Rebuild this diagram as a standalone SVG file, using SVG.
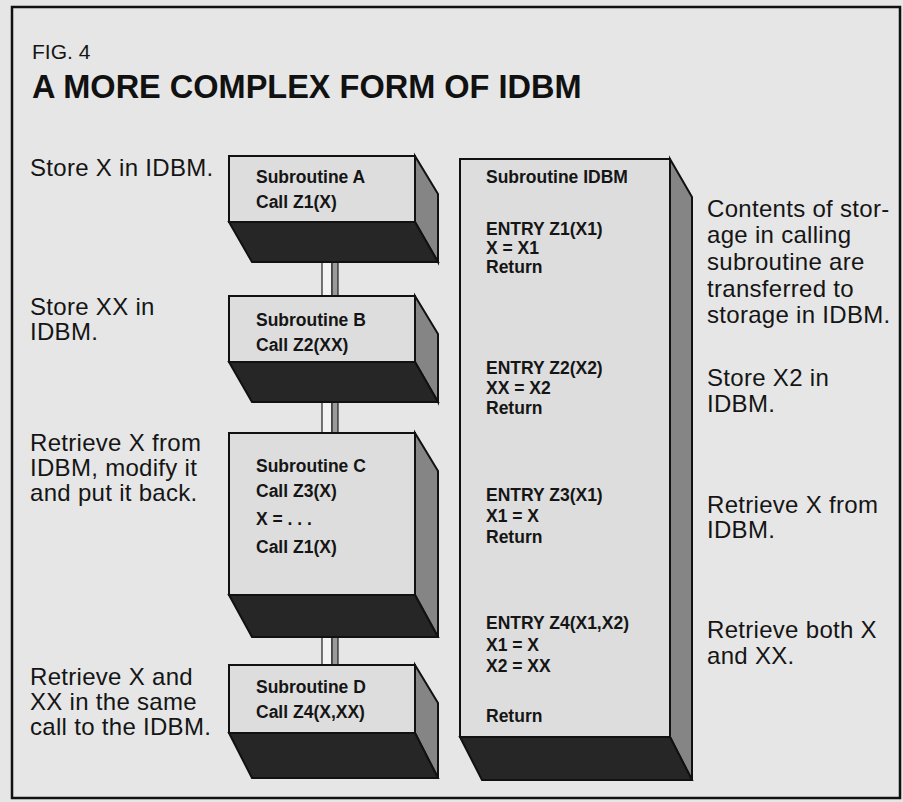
<svg xmlns="http://www.w3.org/2000/svg" width="903" height="802" viewBox="0 0 903 802">
<style>
.bg{fill:#e6e6e6}
.frame{fill:none;stroke:#111;stroke-width:2.5}
.front{fill:#dddddd;stroke:#111;stroke-width:2}
.side{fill:#858585;stroke:#111;stroke-width:2}
.bottom{fill:#262626;stroke:#111;stroke-width:2}
.note{font-family:"Liberation Sans",Arial,sans-serif;font-size:24px;letter-spacing:0.3px;fill:#151515}
.code{font-family:"Liberation Sans",Arial,sans-serif;font-size:17.5px;font-weight:bold;fill:#151515}
.fig{font-family:"Liberation Sans",Arial,sans-serif;font-size:21px;fill:#151515}
.title{font-family:"Liberation Sans",Arial,sans-serif;font-size:32.5px;font-weight:bold;fill:#111}
.barw{fill:#f4f4f4;stroke:#222;stroke-width:1.2}
.barg{fill:#9a9a9a;stroke:#222;stroke-width:1.2}
</style>
<rect class="bg" x="0" y="0" width="903" height="802"/>
<rect class="frame" x="12" y="7" width="888" height="791"/>
<text class="fig" x="32" y="59">FIG. 4</text>
<text class="title" x="32" y="98">A MORE COMPLEX FORM OF IDBM</text>

<g id="connectors">
  <rect class="barw" x="322" y="262" width="10" height="34"/><rect class="barg" x="332" y="262" width="6" height="34"/>
  <rect class="barw" x="322" y="402" width="10" height="31"/><rect class="barg" x="332" y="402" width="6" height="31"/>
  <rect class="barw" x="322" y="637" width="10" height="28"/><rect class="barg" x="332" y="637" width="6" height="28"/>
</g>

<g id="subA">
  <polygon class="side" points="415,156 438,194 438,262 415,222"/>
  <polygon class="bottom" points="229,222 415,222 438,262 252,262"/>
  <rect class="front" x="229" y="156" width="186" height="66"/>
  <text class="code" x="256" y="183">Subroutine A</text>
  <text class="code" x="256" y="208">Call Z1(X)</text>
</g>
<g id="subB">
  <polygon class="side" points="415,296 438,334 438,402 415,362"/>
  <polygon class="bottom" points="229,362 415,362 438,402 252,402"/>
  <rect class="front" x="229" y="296" width="186" height="66"/>
  <text class="code" x="256" y="326">Subroutine B</text>
  <text class="code" x="256" y="351">Call Z2(XX)</text>
</g>
<g id="subC">
  <polygon class="side" points="415,433 438,471 438,637 415,595"/>
  <polygon class="bottom" points="229,595 415,595 438,637 252,637"/>
  <rect class="front" x="229" y="433" width="186" height="162"/>
  <text class="code" x="256" y="472">Subroutine C</text>
  <text class="code" x="256" y="497">Call Z3(X)</text>
  <text class="code" x="256" y="525">X = . . .</text>
  <text class="code" x="256" y="553">Call Z1(X)</text>
</g>
<g id="subD">
  <polygon class="side" points="415,665 438,703 438,778 415,733"/>
  <polygon class="bottom" points="229,733 415,733 438,778 252,778"/>
  <rect class="front" x="229" y="665" width="186" height="68"/>
  <text class="code" x="256" y="693">Subroutine D</text>
  <text class="code" x="256" y="718">Call Z4(X,XX)</text>
</g>
<g id="subIDBM">
  <polygon class="side" points="670,159 692,197 692,780 670,737"/>
  <polygon class="bottom" points="460,737 670,737 692,780 482,780"/>
  <rect class="front" x="460" y="159" width="210" height="578"/>
  <text class="code" x="486" y="183">Subroutine IDBM</text>
  <text class="code" x="486" y="235">ENTRY Z1(X1)</text>
  <text class="code" x="486" y="254">X = X1</text>
  <text class="code" x="486" y="273">Return</text>
  <text class="code" x="486" y="374">ENTRY Z2(X2)</text>
  <text class="code" x="486" y="394">XX = X2</text>
  <text class="code" x="486" y="414">Return</text>
  <text class="code" x="486" y="501">ENTRY Z3(X1)</text>
  <text class="code" x="486" y="522">X1 = X</text>
  <text class="code" x="486" y="543">Return</text>
  <text class="code" x="486" y="629">ENTRY Z4(X1,X2)</text>
  <text class="code" x="486" y="651">X1 = X</text>
  <text class="code" x="486" y="672">X2 = XX</text>
  <text class="code" x="486" y="722">Return</text>
</g>

<g id="left-notes">
  <text class="note" x="30" y="176">Store X in IDBM.</text>
  <text class="note" x="30" y="315">Store XX in</text>
  <text class="note" x="30" y="340">IDBM.</text>
  <text class="note" x="30" y="451">Retrieve X from</text>
  <text class="note" x="30" y="476">IDBM, modify it</text>
  <text class="note" x="30" y="501">and put it back.</text>
  <text class="note" x="30" y="685">Retrieve X and</text>
  <text class="note" x="30" y="710">XX in the same</text>
  <text class="note" x="30" y="735">call to the IDBM.</text>
</g>
<g id="right-notes">
  <text class="note" x="707" y="217">Contents of stor-</text>
  <text class="note" x="707" y="243">age in calling</text>
  <text class="note" x="707" y="270">subroutine are</text>
  <text class="note" x="707" y="297">transferred to</text>
  <text class="note" x="707" y="323">storage in IDBM.</text>
  <text class="note" x="707" y="386">Store X2 in</text>
  <text class="note" x="707" y="412">IDBM.</text>
  <text class="note" x="707" y="513">Retrieve X from</text>
  <text class="note" x="707" y="538">IDBM.</text>
  <text class="note" x="707" y="638">Retrieve both X</text>
  <text class="note" x="707" y="664">and XX.</text>
</g>
</svg>
